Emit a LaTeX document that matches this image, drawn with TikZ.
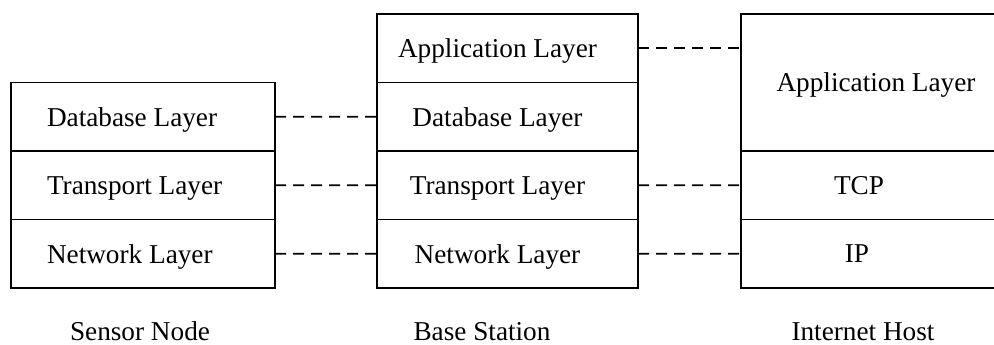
\documentclass[tikz,border=0pt]{standalone}
\usepackage{fontspec}
\setmainfont{Liberation Serif}
\usetikzlibrary{positioning, calc}

\tikzset{
    layer/.style={draw, line width=1.1pt, minimum height=1.37cm, inner sep=0pt, outer sep=0pt, text depth=0pt, font=\fontsize{15.5}{18}\selectfont},
    leftlayer/.style={layer, minimum width=5.28cm,
        execute at begin node={\hbox to 3.84cm\bgroup}, execute at end node={\hfil\egroup}},
    midlayer/.style={layer, minimum width=5.22cm, execute at begin node={\hspace*{-0.4cm}}},
    hostlayer/.style={layer, minimum width=5.4cm},
    textleft/.style={execute at begin node={\hspace*{-#1}}},
    peer/.style={line width=1.1pt, dash pattern=on 0.22cm off 0.14cm},
    caption/.style={font=\fontsize{15.5}{18}\selectfont, anchor=base}
}

\begin{document}
\begin{tikzpicture}
    \useasboundingbox (0,0) rectangle (19.88,-6.9);
    \clip (0,0) rectangle (19.88,-6.9);

    % sensor node
    \node[leftlayer] (sdb) at (2.86,-2.335) {Database Layer};
    \node[leftlayer, below=0pt of sdb] (str) {Transport Layer};
    \node[leftlayer, below=0pt of str] (snw) {Network Layer};

    % base station
    \node[midlayer] (bapp) at (10.15,-0.965) {Application Layer};
    \node[midlayer, below=0pt of bapp] (bdb) {Database Layer};
    \node[midlayer, below=0pt of bdb] (btr) {Transport Layer};
    \node[midlayer, below=0pt of btr] (bnw) {Network Layer};

    % internet host
    \node[hostlayer, minimum height=2.74cm] (happ) at (17.52,-1.65) {Application Layer};
    \node[hostlayer, below=0pt of happ, textleft=0.68cm] (htcp) {TCP};
    \node[hostlayer, below=0pt of htcp, textleft=0.76cm] (hip) {IP};

    % peer links
    \draw[peer] (sdb.east) -- (bdb.west);
    \draw[peer] (str.east) -- (btr.west);
    \draw[peer] (snw.east) -- (bnw.west);
    \draw[peer] (bapp.east) -- (bapp.east -| happ.west);
    \draw[peer] (btr.east) -- (htcp.west);
    \draw[peer] (bnw.east) -- (hip.west);

    \node[caption] (sname) at (2.8,-6.8) {Sensor Node};
    \node[caption] (bname) at (9.64,-6.8) {Base Station};
    \node[caption] (hname) at (17.26,-6.8) {Internet Host};
\end{tikzpicture}
\end{document}
